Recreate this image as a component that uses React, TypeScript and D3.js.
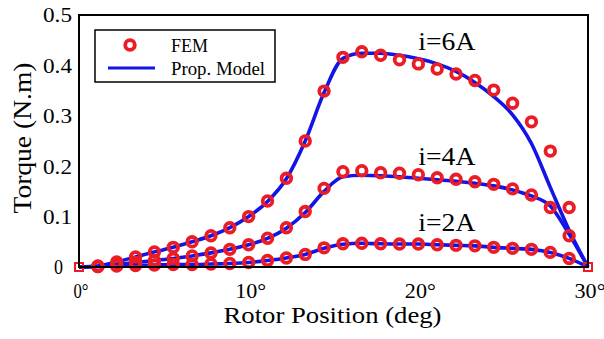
import React from "react";
import * as d3 from "d3";

// Rotor position samples (deg), 28 points from 0 to 30
const positions: number[] = d3.range(28).map((i) => (i * 30) / 27);

const fem6: number[] = [0, 0.002, 0.01, 0.02, 0.03, 0.039, 0.05, 0.062, 0.078, 0.1, 0.131, 0.176, 0.25, 0.349, 0.416, 0.427, 0.42, 0.411, 0.403, 0.393, 0.383, 0.37, 0.351, 0.325, 0.288, 0.23, 0.118, 0];
const model6: number[] = [0, 0.002, 0.01, 0.02, 0.03, 0.039, 0.05, 0.062, 0.078, 0.1, 0.13, 0.175, 0.25, 0.346, 0.414, 0.424, 0.424, 0.42, 0.413, 0.403, 0.388, 0.366, 0.338, 0.302, 0.245, 0.158, 0.073, 0];
const fem4: number[] = [0, 0.001, 0.005, 0.009, 0.013, 0.017, 0.022, 0.028, 0.035, 0.044, 0.057, 0.078, 0.11, 0.156, 0.189, 0.191, 0.187, 0.186, 0.183, 0.177, 0.174, 0.169, 0.164, 0.155, 0.143, 0.118, 0.062, 0];
const model4: number[] = [0, 0.001, 0.005, 0.009, 0.013, 0.017, 0.022, 0.028, 0.035, 0.044, 0.057, 0.077, 0.108, 0.15, 0.179, 0.182, 0.181, 0.179, 0.176, 0.173, 0.17, 0.166, 0.161, 0.153, 0.141, 0.121, 0.065, 0];
const fem2: number[] = [0, 0.001, 0.002, 0.003, 0.004, 0.005, 0.005, 0.006, 0.007, 0.009, 0.013, 0.018, 0.025, 0.038, 0.046, 0.047, 0.046, 0.0455, 0.0455, 0.044, 0.043, 0.042, 0.039, 0.037, 0.035, 0.029, 0.017, 0];
const model2: number[] = [0, 0.001, 0.002, 0.003, 0.004, 0.005, 0.005, 0.006, 0.007, 0.009, 0.013, 0.018, 0.025, 0.037, 0.045, 0.047, 0.046, 0.0455, 0.0455, 0.044, 0.043, 0.042, 0.039, 0.037, 0.035, 0.029, 0.017, 0];

const currentLabels: string[] = ["i=6A", "i=4A", "i=2A"];
const currentLabelValues: number[] = [0.43, 0.202, 0.072];
const currentLabelPos: number[] = [20.0, 20.0, 20.0];

const xTicks: number[] = [0, 10, 20, 30];
const yTicks: number[] = [0, 0.1, 0.2, 0.3, 0.4, 0.5];

const W = 604;
const H = 339;
const M = { left: 79, right: 588, top: 15, bottom: 267 };
const FONT = "'Liberation Serif', 'Times New Roman', Times, serif";
const RED = "#ec1c24";
const BLUE = "#1414e6";

export default function App() {
  const x = d3.scaleLinear().domain([0, 30]).range([M.left, M.right]);
  const y = d3.scaleLinear().domain([0, 0.5]).range([M.bottom, M.top]);
  const line = d3
    .line<number>()
    .x((_, i) => x(positions[i]))
    .y((d) => y(d))
    .curve(d3.curveMonotoneX);

  const models = [model6, model4, model2];
  const fems = [fem6, fem4, fem2];
  const ts = { fontFamily: FONT };

  return (
    <svg
      width={W}
      height={H}
      style={{ position: "absolute", left: 0, top: 0, background: "#fff" }}
    >
      <rect x={0} y={0} width={W} height={H} fill="#fff" />
      {models.map((m, k) => (
        <path key={"m" + k} d={line(m) || ""} fill="none" stroke={BLUE} strokeWidth={3.6} />
      ))}
      {fems.map((f, k) => (
        <g key={"f" + k}>
          {f.map((v, i) =>
            i === 0 || i === f.length - 1 ? (
              <rect
                key={i}
                x={x(positions[i]) - 4}
                y={y(v) - 4}
                width={8}
                height={8}
                fill="none"
                stroke={RED}
                strokeWidth={2}
              />
            ) : (
              <circle
                key={i}
                cx={x(positions[i])}
                cy={y(v)}
                r={4.8}
                fill="none"
                stroke={RED}
                strokeWidth={3.8}
              />
            )
          )}
        </g>
      ))}
      <rect
        x={M.left}
        y={M.top}
        width={M.right - M.left}
        height={M.bottom - M.top}
        fill="none"
        stroke="#000"
        strokeWidth={2}
      />
      {yTicks.map((t) => (
        <text
          key={t}
          x={t === 0 ? 63 : 72}
          y={y(t)}
          dy="0.35em"
          textAnchor="end"
          fontSize={21}
          textLength={t === 0 ? 9 : 29}
          lengthAdjust="spacingAndGlyphs"
          fill="#000"
          style={ts}
        >
          {t === 0 ? "0" : d3.format(".1f")(t)}
        </text>
      ))}
      {xTicks.map((t) => (
        <text
          key={t}
          x={x(t) + 2}
          y={298}
          textAnchor="middle"
          fontSize={21}
          textLength={t === 0 ? 15 : 31}
          lengthAdjust="spacingAndGlyphs"
          fill="#000"
          style={ts}
        >
          {t + "°"}
        </text>
      ))}
      <text
        x={(M.left + M.right) / 2 - 1}
        y={323}
        textAnchor="middle"
        fontSize={23}
        textLength={218}
        lengthAdjust="spacingAndGlyphs"
        fill="#000"
        style={ts}
      >
        Rotor Position (deg)
      </text>
      <text
        transform={`translate(31, 138) rotate(-90)`}
        textAnchor="middle"
        fontSize={25}
        textLength={151}
        lengthAdjust="spacingAndGlyphs"
        fill="#000"
        style={ts}
      >
        Torque (N.m)
      </text>
      {currentLabels.map((s, k) => (
        <text
          key={s}
          x={x(currentLabelPos[k])}
          y={y(currentLabelValues[k])}
          fontSize={25}
          textLength={57}
          lengthAdjust="spacingAndGlyphs"
          fill="#000"
          style={ts}
        >
          {s}
        </text>
      ))}
      <g>
        <rect x={95} y={30} width={180} height={52} fill="#fff" stroke="#000" strokeWidth={1.5} />
        <circle cx={130} cy={45} r={4.8} fill="none" stroke={RED} strokeWidth={3.8} />
        <line x1={108} x2={155} y1={68} y2={68} stroke={BLUE} strokeWidth={3} />
        <text x={171} y={52} fontSize={19} textLength={37} lengthAdjust="spacingAndGlyphs" fill="#000" style={ts}>
          FEM
        </text>
        <text x={171} y={75} fontSize={19} textLength={94} lengthAdjust="spacingAndGlyphs" fill="#000" style={ts}>
          Prop. Model
        </text>
      </g>
    </svg>
  );
}
